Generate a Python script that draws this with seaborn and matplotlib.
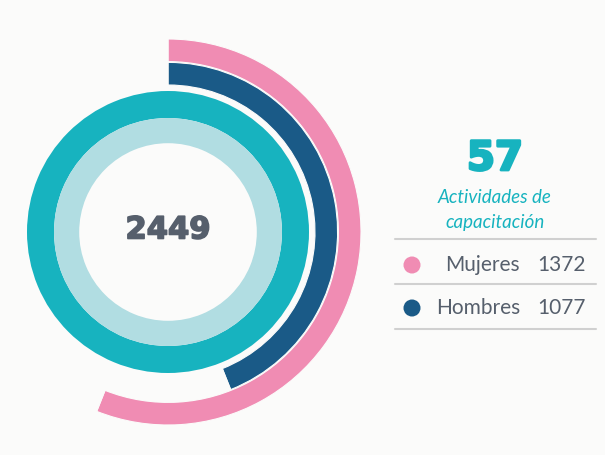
import matplotlib
matplotlib.use("Agg")
import matplotlib.pyplot as plt
import matplotlib.patheffects as pe
import seaborn as sns
import pandas as pd

# data
categories = ["Mujeres", "Hombres"]
counts = [1372, 1077]
activities = 57
activities_label = "Actividades de\ncapacitación"
total = sum(counts)

pink = "#f08cb3"
navy = "#1a5a87"
teal = "#17b3bf"
light = "#b1dde2"
gray_txt = "#565f6c"
bg = "#fbfbfa"

sns.set_style("white")
plt.rcParams["font.family"] = ["Lato", "DejaVu Sans"]

fig = plt.figure(figsize=(6.05, 4.55), dpi=100, facecolor=bg)

# ring axes: 400 px square centred at (168, 223) from the bottom-left
ax = fig.add_axes([(168 - 200) / 605, (223 - 200) / 455, 400 / 605, 400 / 455])
ax.set_facecolor("none")

# outer arcs, one per category, starting at 12 o'clock and running clockwise
ring_outer = [0.965, 0.848]
ring_colors = [pink, navy]
for i, (cat, val) in enumerate(zip(categories, counts)):
    rest = total - val
    ax.pie([val, rest], radius=ring_outer[i], startangle=90, counterclock=False,
           colors=[ring_colors[i], "none"],
           wedgeprops=dict(width=0.113, edgecolor=bg, linewidth=0.8))

# full rings for the total
ax.pie([total], radius=0.705, colors=[teal], wedgeprops=dict(width=0.135, linewidth=0))
ax.pie([total], radius=0.57, colors=[light], wedgeprops=dict(width=0.126, linewidth=0))
ax.set_xlim(-1, 1)
ax.set_ylim(-1, 1)
ax.axis("off")
ax.text(0, 0.01, f"{total}", ha="center", va="center", fontsize=22,
        fontweight="bold", color=gray_txt, family="DejaVu Sans",
        path_effects=[pe.withStroke(linewidth=1.2, foreground=gray_txt)])

# right-hand panel in pixel coordinates
ax2 = fig.add_axes([0, 0, 1, 1])
ax2.set_facecolor("none")

ax2.text(495, 159, f"{activities}", ha="center", va="center", fontsize=29,
         fontweight="bold", color=teal, family="DejaVu Sans",
         path_effects=[pe.withStroke(linewidth=2, foreground=teal)])
ax2.text(495, 210, activities_label, ha="center", va="center", fontsize=13.5,
         style="italic", color=teal, linespacing=1.6)

row_y = [265, 308]
legend_df = pd.DataFrame({"x": [412] * len(categories), "y": row_y, "cat": categories})
sns.scatterplot(data=legend_df, x="x", y="y", hue="cat", palette=ring_colors,
                s=150, edgecolor="none", legend=False, ax=ax2)
ax2.set_xlim(0, 605)
ax2.set_ylim(455, 0)
ax2.axis("off")

for y in [239, 284, 329]:
    ax2.plot([395, 596], [y, y], color="#d0d0d0", lw=1.5)

for cat, val, y in zip(categories, counts, row_y):
    ax2.text(520, y, cat, ha="right", va="center", fontsize=15, color=gray_txt)
    ax2.text(586, y, f"{val}", ha="right", va="center", fontsize=15, color=gray_txt)

fig.savefig("out.png", dpi=100, facecolor=bg)
